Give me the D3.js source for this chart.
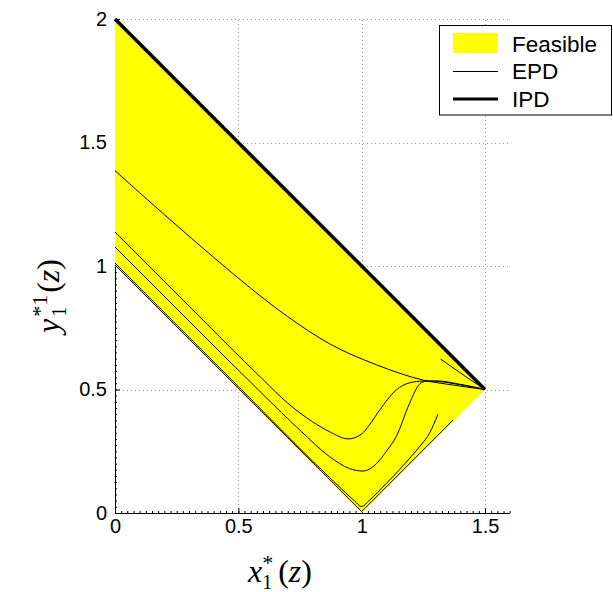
<!DOCTYPE html>
<html lang="en">
<head>
    <meta charset="UTF-8">
    <title>Feasible region</title>
    <style>
        body { margin: 0; background: #fff; }
        .tick text { font-family: "Liberation Sans", Arial, sans-serif; font-size: 20px; fill: #000; }
        .lbl { font-family: "Liberation Serif", "Times New Roman", serif; font-size: 32px; fill: #000; }
        .it { font-style: italic; }
    </style>
</head>
<body>
<script src="https://d3js.org/d3.v7.min.js"></script>
<script>
    const width = 613;
    const height = 592;

    // data
    const xTicks = [0, 0.5, 1, 1.5];
    const yTicks = [0, 0.5, 1, 1.5, 2];

    const feasibleX = [0, 1.5, 1, 0];
    const feasibleY = [2, 0.5, 0, 1];

    const ipdX = [0, 1.5];
    const ipdY = [2, 0.5];

    const epd1X = [0, 0.2, 0.4, 0.55, 0.7, 0.87, 1.06, 1.25, 1.37, 1.5];
    const epd1Y = [1.386, 1.208, 1.035, 0.91, 0.795, 0.685, 0.6, 0.538, 0.518, 0.5];

    const epd2X = [0, 0.3, 0.6, 0.7, 0.8, 0.87, 0.945, 1.0, 1.03, 1.073, 1.14, 1.194, 1.248, 1.3, 1.4, 1.5];
    const epd2Y = [1.138, 0.838, 0.54, 0.445, 0.37, 0.329, 0.3, 0.32, 0.355, 0.417, 0.498, 0.527, 0.534, 0.533, 0.519, 0.5];

    const epd3X = [0, 0.3, 0.6, 0.75, 0.87, 0.95, 1.005, 1.06, 1.1, 1.14, 1.194, 1.235, 1.262, 1.3, 1.4, 1.5];
    const epd3Y = [1.077, 0.777, 0.48, 0.335, 0.228, 0.18, 0.17, 0.2, 0.25, 0.309, 0.444, 0.522, 0.534, 0.535, 0.521, 0.5];

    const epd4X = [0, 0.5, 0.9, 0.97, 1.0, 1.03, 1.1, 1.15, 1.2, 1.24, 1.275, 1.309];
    const epd4Y = [1.012, 0.512, 0.115, 0.05, 0.026, 0.05, 0.12, 0.172, 0.228, 0.275, 0.323, 0.4];

    const epd5X = [0, 1.0, 1.37];
    const epd5Y = [1.004, 0.006, 0.376];

    const epd6X = [1.32, 1.4, 1.45, 1.5];
    const epd6Y = [0.623, 0.567, 0.533, 0.5];

    const legendLabels = ['Feasible', 'EPD', 'IPD'];

    const zip = (xs, ys) => xs.map((x, i) => [x, ys[i]]);

    const svg = d3.select('body').append('svg').attr('width', width).attr('height', height);

    const x = d3.scaleLinear().domain([0, 1.6]).range([115, 509.7]);
    const y = d3.scaleLinear().domain([0, 2]).range([513, 19]);

    // dotted grid, under the data
    const grid = svg.append('g').attr('stroke', '#999').attr('stroke-dasharray', '1,3').attr('stroke-width', 1);
    grid.selectAll('.gx').data(xTicks.slice(1)).enter().append('line')
        .attr('x1', d => Math.round(x(d)) + 0.5).attr('x2', d => Math.round(x(d)) + 0.5)
        .attr('y1', y(0)).attr('y2', y(2));
    grid.selectAll('.gy').data(yTicks.slice(1)).enter().append('line')
        .attr('y1', d => Math.round(y(d)) + 0.5).attr('y2', d => Math.round(y(d)) + 0.5)
        .attr('x1', x(0)).attr('x2', x(1.6));

    // axes (ticks point inward)
    const minorX = d3.range(0, 1.6001, 0.025);
    const minorY = d3.range(0, 2.0001, 0.025);

    svg.append('g').attr('transform', `translate(0,${y(0)})`)
        .call(d3.axisBottom(x).tickValues(minorX).tickSize(-2).tickFormat('').tickSizeOuter(0))
        .call(g => g.select('.domain').remove());
    svg.append('g').attr('transform', `translate(${x(0)},0)`)
        .call(d3.axisLeft(y).tickValues(minorY).tickSize(-2).tickFormat('').tickSizeOuter(0))
        .call(g => g.select('.domain').remove());

    svg.append('g').attr('transform', `translate(0,${y(0)})`)
        .call(d3.axisBottom(x).tickValues(xTicks).tickSize(-5).tickSizeOuter(0).tickPadding(6).tickFormat(d => String(d)));
    svg.append('g').attr('transform', `translate(${x(0)},0)`)
        .call(d3.axisLeft(y).tickValues(yTicks).tickSize(-5).tickSizeOuter(0).tickPadding(8).tickFormat(d => String(d)));

    // feasible region
    svg.append('path')
        .attr('d', d3.line().x(d => x(d[0])).y(d => y(d[1]))(zip(feasibleX, feasibleY)) + 'Z')
        .attr('fill', '#ffff00');

    const smooth = d3.line().x(d => x(d[0])).y(d => y(d[1])).curve(d3.curveMonotoneX);
    const straight = d3.line().x(d => x(d[0])).y(d => y(d[1]));

    [[epd1X, epd1Y], [epd2X, epd2Y], [epd3X, epd3Y], [epd4X, epd4Y], [epd6X, epd6Y]].forEach(s => {
        svg.append('path').attr('d', smooth(zip(s[0], s[1])))
            .attr('fill', 'none').attr('stroke', '#000').attr('stroke-width', 1);
    });
    svg.append('path').attr('d', straight(zip(epd5X, epd5Y)))
        .attr('fill', 'none').attr('stroke', '#000').attr('stroke-width', 1);

    svg.append('path').attr('d', straight(zip(ipdX, ipdY)))
        .attr('fill', 'none').attr('stroke', '#000').attr('stroke-width', 3.5);

    // legend
    const lg = svg.append('g');
    lg.append('rect').attr('x', 439.5).attr('y', 25.5).attr('width', 172).attr('height', 89.5)
        .attr('fill', '#fff').attr('stroke', '#000');
    lg.append('rect').attr('x', 453).attr('y', 33).attr('width', 45).attr('height', 20).attr('fill', '#ffff00');
    lg.append('line').attr('x1', 453).attr('x2', 498).attr('y1', 71.5).attr('y2', 71.5)
        .attr('stroke', '#000').attr('stroke-width', 1);
    lg.append('line').attr('x1', 453).attr('x2', 498).attr('y1', 99).attr('y2', 99)
        .attr('stroke', '#000').attr('stroke-width', 3);
    lg.selectAll('text').data(legendLabels).enter().append('text')
        .attr('x', 512).attr('y', (d, i) => 44 + i * 27.5).attr('dy', '0.35em')
        .style('font-family', '"Liberation Sans", Arial, sans-serif').style('font-size', '22.5px')
        .text(d => d);

    // axis labels: x_1^*(z) and y_1^{*1}(z)
    const xl = svg.append('text').attr('class', 'lbl').attr('x', 248).attr('y', 582);
    xl.append('tspan').attr('class', 'it').text('x');
    xl.append('tspan').attr('dy', -12).style('font-size', '22px').text('*');
    xl.append('tspan').attr('dx', -11).attr('dy', 19).style('font-size', '20px').text('1');
    xl.append('tspan').attr('dx', 6).attr('dy', -7).text('(');
    xl.append('tspan').attr('class', 'it').text('z');
    xl.append('tspan').text(')');

    const yl = svg.append('text').attr('class', 'lbl')
        .attr('transform', 'translate(59,333) rotate(-90)');
    yl.append('tspan').attr('class', 'it').text('y');
    yl.append('tspan').attr('dx', 2).attr('dy', -12).style('font-size', '22px').text('*1');
    yl.append('tspan').attr('dx', -22).attr('dy', 19).style('font-size', '20px').text('1');
    yl.append('tspan').attr('dx', 14).attr('dy', -7).text('(');
    yl.append('tspan').attr('class', 'it').text('z');
    yl.append('tspan').text(')');
</script>
</body>
</html>
